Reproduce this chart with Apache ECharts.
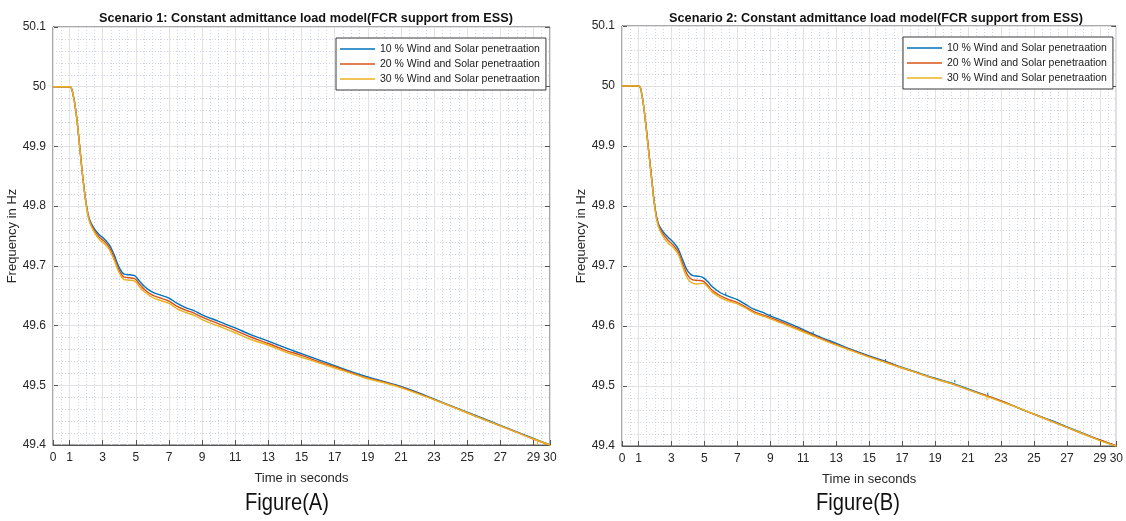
<!DOCTYPE html>
<html>
<head>
<meta charset="utf-8">
<script src="https://cdn.jsdelivr.net/npm/echarts@6/dist/echarts.min.js"></script>
<style>
html,body{margin:0;padding:0;background:#fff;}
#chart{width:1126px;height:521px;}
</style>
</head>
<body>
<div id="chart"></div>
<script>
// ---------- data ----------
const seriesNames = ['10 % Wind and Solar penetraation', '20 % Wind and Solar penetraation', '30 % Wind and Solar penetraation'];
const xTickValues = [0, 1, 3, 5, 7, 9, 11, 13, 15, 17, 19, 21, 23, 25, 27, 29, 30];
const titleA = 'Scenario 1: Constant admittance load model(FCR support from ESS)';
const titleB = 'Scenario 2: Constant admittance load model(FCR support from ESS)';
const captionA = 'Figure(A)';
const captionB = 'Figure(B)';

const time = [0, 1, 1.2, 1.4, 1.6, 1.8, 2, 2.2, 2.5, 2.8, 3.1, 3.4, 3.7, 4, 4.3, 4.6, 4.9, 5.2, 5.5, 6, 6.5, 7, 7.5, 8, 8.5, 9, 10, 11, 12, 13, 14, 15, 16, 17, 18, 19, 20, 21, 22, 23, 24, 25, 26, 27, 28, 29, 30];

// Figure (A)
const a10 = [50, 50, 49.988, 49.955, 49.903, 49.848, 49.805, 49.778, 49.762, 49.752, 49.745, 49.735, 49.718, 49.697, 49.686, 49.685, 49.684, 49.675, 49.666, 49.656, 49.651, 49.646, 49.637, 49.630, 49.625, 49.618, 49.607, 49.596, 49.584, 49.574, 49.563, 49.553, 49.543, 49.533, 49.523, 49.514, 49.506, 49.498, 49.488, 49.477, 49.466, 49.455, 49.444, 49.433, 49.422, 49.411, 49.400];
const a20 = [50, 50, 49.988, 49.955, 49.903, 49.848, 49.804, 49.776, 49.759, 49.748, 49.741, 49.731, 49.713, 49.692, 49.681, 49.680, 49.679, 49.670, 49.661, 49.651, 49.646, 49.641, 49.632, 49.626, 49.621, 49.614, 49.603, 49.592, 49.580, 49.570, 49.559, 49.550, 49.540, 49.531, 49.521, 49.512, 49.505, 49.497, 49.487, 49.476, 49.465, 49.454, 49.443, 49.432, 49.421, 49.410, 49.400];
const a30 = [50, 50, 49.988, 49.955, 49.902, 49.847, 49.803, 49.774, 49.756, 49.744, 49.737, 49.727, 49.709, 49.688, 49.677, 49.676, 49.675, 49.666, 49.657, 49.647, 49.642, 49.637, 49.628, 49.622, 49.617, 49.610, 49.599, 49.588, 49.576, 49.567, 49.556, 49.547, 49.538, 49.529, 49.520, 49.511, 49.504, 49.496, 49.486, 49.476, 49.465, 49.454, 49.443, 49.432, 49.421, 49.410, 49.400];

// Figure (B)
const b10 = [50, 50, 49.986, 49.947, 49.897, 49.846, 49.798, 49.771, 49.757, 49.748, 49.740, 49.729, 49.709, 49.691, 49.684, 49.683, 49.681, 49.674, 49.665, 49.655, 49.649, 49.644, 49.636, 49.628, 49.623, 49.617, 49.606, 49.594, 49.582, 49.571, 49.560, 49.550, 49.541, 49.531, 49.522, 49.513, 49.505, 49.495, 49.485, 49.475, 49.464, 49.453, 49.443, 49.432, 49.421, 49.410, 49.400];
const b20 = [50, 50, 49.986, 49.947, 49.897, 49.846, 49.797, 49.769, 49.753, 49.743, 49.735, 49.724, 49.703, 49.684, 49.677, 49.676, 49.675, 49.668, 49.659, 49.650, 49.644, 49.639, 49.632, 49.624, 49.619, 49.614, 49.603, 49.592, 49.580, 49.569, 49.559, 49.549, 49.540, 49.530, 49.521, 49.512, 49.504, 49.494, 49.485, 49.475, 49.464, 49.453, 49.442, 49.431, 49.420, 49.410, 49.400];
const b30 = [50, 50, 49.986, 49.946, 49.895, 49.844, 49.795, 49.766, 49.749, 49.738, 49.731, 49.720, 49.697, 49.678, 49.671, 49.670, 49.671, 49.665, 49.656, 49.647, 49.641, 49.637, 49.630, 49.622, 49.617, 49.612, 49.601, 49.590, 49.579, 49.568, 49.558, 49.548, 49.539, 49.530, 49.521, 49.512, 49.504, 49.494, 49.484, 49.474, 49.464, 49.453, 49.442, 49.431, 49.420, 49.409, 49.400];

// small glitches: [time, fromHz, toHz]
const glitchA30 = [[29.25, 49.409, 49.400]];
const glitchB10 = [[6.3, 49.652, 49.656], [9.0, 49.616, 49.620], [11.6, 49.587, 49.591], [16.0, 49.541, 49.545], [20.2, 49.506, 49.510], [22.2, 49.484, 49.489]];
const glitchB30 = [[22.15, 49.484, 49.476], [27.8, 49.423, 49.427], [29.4, 49.409, 49.404]];

// ---------- styles ----------
const FONT = "'Liberation Sans', Arial, Helvetica, sans-serif";
const COLORS = ['#0072BD', '#D95319', '#EDB120'];
const AXIS_COLOR = '#555555';
const TEXT_COLOR = '#262626';
const MINOR = '#d0d3ee';

function pairs(t, v) { return t.map((x, i) => [x, v[i]]); }
function glitchData(g) {
  const out = [];
  g.forEach(s => { out.push([s[0], s[1]], [s[0], s[2]], [s[0], '-']); });
  return out;
}

const gridBase = { show: true, borderColor: AXIS_COLOR, borderWidth: 1, backgroundColor: 'transparent' };
const grids = [
  Object.assign({ left: 53, top: 27, width: 497, height: 418 }, gridBase),
  Object.assign({ left: 622, top: 26, width: 498, height: 420 }, gridBase)
];

const xAxes = [], yAxes = [];
[0, 1].forEach(g => {
  xAxes.push({
    gridIndex: g, type: 'value', min: 0, max: 30, position: 'bottom',
    axisLine: { show: true, onZero: false, lineStyle: { color: AXIS_COLOR, width: 1 } },
    axisTick: { show: true, inside: true, length: 5, customValues: xTickValues, lineStyle: { color: AXIS_COLOR } },
    axisLabel: { customValues: xTickValues, color: TEXT_COLOR, fontSize: 12, fontFamily: FONT, margin: 7 },
    splitLine: { show: true, lineStyle: { color: '#e2e2e2', width: 1 } },
    name: 'Time in seconds', nameLocation: 'middle', nameGap: 27,
    nameTextStyle: { color: TEXT_COLOR, fontSize: 13, fontFamily: FONT },
    z: 3
  });
  xAxes.push({
    gridIndex: g, type: 'value', min: 0, max: 30, position: 'top',
    axisLine: { show: false, onZero: false },
    axisTick: { show: true, inside: true, length: 5, customValues: xTickValues, lineStyle: { color: AXIS_COLOR } },
    axisLabel: { show: false },
    splitLine: { show: false }
  });
  xAxes.push({
    gridIndex: g, type: 'value', min: 0, max: 30, interval: 0.5, position: 'bottom',
    axisLine: { show: false }, axisTick: { show: false }, axisLabel: { show: false },
    splitLine: { show: true, lineStyle: { color: MINOR, width: 1, type: [1, 2] } },
    z: 0
  });
  yAxes.push({
    gridIndex: g, type: 'value', min: 49.4, max: 50.1, interval: 0.1, position: 'left',
    axisLine: { show: true, onZero: false, lineStyle: { color: AXIS_COLOR, width: 1 } },
    axisTick: { show: true, inside: true, length: 5, lineStyle: { color: AXIS_COLOR } },
    axisLabel: { color: TEXT_COLOR, fontSize: 12, fontFamily: FONT, margin: 7,
      formatter: v => String(Math.round(v * 10) / 10) },
    splitLine: { show: true, lineStyle: { color: '#e2e2e2', width: 1 } },
    minorTick: { show: false, splitNumber: 5 },
    minorSplitLine: { show: true, lineStyle: { color: MINOR, width: 1, type: [1, 2] } },
    name: 'Frequency in Hz', nameLocation: 'middle', nameGap: 31,
    nameTextStyle: { color: TEXT_COLOR, fontSize: 13, fontFamily: FONT }
  });
  yAxes.push({
    gridIndex: g, type: 'value', min: 49.4, max: 50.1, interval: 0.1, position: 'right',
    axisLine: { show: false, onZero: false },
    axisTick: { show: true, inside: true, length: 5, lineStyle: { color: AXIS_COLOR } },
    axisLabel: { show: false },
    splitLine: { show: false }
  });
});

function lineSeries(name, data, color, g) {
  return {
    name: name, type: 'line', data: data,
    xAxisIndex: g * 3, yAxisIndex: g * 2,
    showSymbol: false, symbol: 'none',
    smooth: 0.4,
    lineStyle: { color: color, width: 1.4 }, itemStyle: { color: color },
    emphasis: { disabled: true }, animation: false, z: 3
  };
}
function glitchSeries(id, g, color, gl) {
  return {
    id: id, type: 'line', data: glitchData(gl), xAxisIndex: g * 3, yAxisIndex: g * 2,
    showSymbol: false, symbol: 'none', connectNulls: false,
    lineStyle: { color: color, width: 1 }, emphasis: { disabled: true }, animation: false, z: 3
  };
}

const series = [
  lineSeries(seriesNames[0], pairs(time, a10), COLORS[0], 0),
  lineSeries(seriesNames[1], pairs(time, a20), COLORS[1], 0),
  lineSeries(seriesNames[2], pairs(time, a30), COLORS[2], 0),
  glitchSeries('gA30', 0, COLORS[2], glitchA30),
  lineSeries(seriesNames[0], pairs(time, b10), COLORS[0], 1),
  lineSeries(seriesNames[1], pairs(time, b20), COLORS[1], 1),
  lineSeries(seriesNames[2], pairs(time, b30), COLORS[2], 1),
  glitchSeries('gB10', 1, COLORS[0], glitchB10),
  glitchSeries('gB30', 1, COLORS[2], glitchB30)
];

const legendBase = {
  orient: 'vertical', data: seriesNames,
  icon: 'rect', itemWidth: 35, itemHeight: 1.6, itemGap: 3,
  padding: [5, 6, 5, 4],
  backgroundColor: '#ffffff', borderColor: '#3a3a3a', borderWidth: 1,
  textStyle: { color: '#1a1a1a', fontSize: 10.5, fontFamily: FONT, lineHeight: 12 },
  selectedMode: false
};

function caption(text, cx) {
  return {
    type: 'text', x: cx, y: 503, scaleX: 0.84,
    style: { text: text, fill: '#111', font: "24px 'Liberation Sans', Arial, sans-serif",
      textAlign: 'center', textVerticalAlign: 'middle' }
  };
}

const option = {
  backgroundColor: '#ffffff',
  animation: false,
  title: [
    { text: titleA, left: 301, top: 7, textAlign: 'center',
      textStyle: { fontSize: 12.7, fontWeight: 'bold', color: '#111', fontFamily: FONT } },
    { text: titleB, left: 871, top: 7, textAlign: 'center',
      textStyle: { fontSize: 12.7, fontWeight: 'bold', color: '#111', fontFamily: FONT } }
  ],
  graphic: [caption(captionA, 287), caption(captionB, 858)],
  legend: [
    Object.assign({}, legendBase, { left: 336, top: 38 }),
    Object.assign({}, legendBase, { left: 903, top: 37 })
  ],
  grid: grids,
  xAxis: xAxes,
  yAxis: yAxes,
  series: series
};

const chart = echarts.init(document.getElementById('chart'), null, { renderer: 'canvas' });
chart.setOption(option);
</script>
</body>
</html>
